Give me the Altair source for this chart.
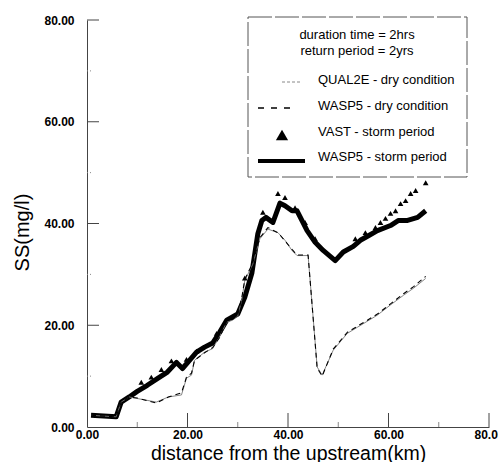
import altair as alt
import pandas as pd

# ---- data ----
storm_x = [0.8, 5.8, 6.8, 8.4, 10.0, 12.0, 14.0, 16.0, 17.8, 19.0, 20.4, 21.8, 23.4, 25.0, 26.4, 27.8,
           30.0, 31.4, 32.8, 34.0, 34.8, 35.6, 37.0, 38.4, 39.4, 40.8, 41.8, 43.8, 45.4, 47.0, 49.4,
           51.0, 53.0, 54.4, 56.0, 57.8, 60.4, 62.0, 63.8, 65.8, 67.4]
storm_y = [2.3, 2.0, 4.9, 5.9, 7.0, 8.2, 9.5, 10.8, 12.7, 11.5, 13.1, 14.7, 15.7, 16.5, 18.6, 21.0,
           22.2, 25.5, 30.2, 38.0, 40.6, 41.2, 40.2, 44.0, 43.5, 42.5, 42.5, 38.6, 36.3, 34.7, 32.7,
           34.4, 35.5, 36.7, 37.6, 38.6, 39.6, 40.6, 40.6, 41.2, 42.5]

vast_x = [10.8, 12.8, 14.8, 16.8, 19.8, 21.8, 25.8, 31.4, 35.0, 38.0, 39.4, 41.4, 43.4, 45.4,
          53.4, 55.4, 57.4, 58.4, 59.4, 60.4, 61.4, 62.4, 63.4, 64.4, 65.4, 67.4]
vast_y = [8.8, 9.8, 11.3, 13.0, 13.3, 14.9, 18.4, 29.3, 42.2, 45.9, 45.1, 43.1, 40.2, 37.0,
          37.0, 38.2, 39.2, 40.2, 41.0, 42.0, 42.5, 43.9, 44.5, 45.9, 46.5, 48.0]

dry_x = [0.8, 5.8, 6.8, 8.4, 10.0, 13.8, 16.2, 18.8, 19.8, 20.8, 21.4, 23.4, 25.0, 26.4, 27.8, 29.0,
         30.0, 30.8, 31.4, 33.0, 34.4, 36.0, 38.0, 39.4, 40.8, 41.8, 44.0, 45.8, 46.8, 49.0, 51.8,
         53.8, 57.8, 60.4, 63.0, 65.0, 67.4]
qual_y = [2.3, 2.0, 4.9, 5.9, 5.6, 4.9, 5.9, 6.3, 9.6, 10.2, 13.1, 14.7, 15.4, 17.8, 20.6, 21.0,
          21.8, 25.0, 28.8, 32.0, 37.0, 38.9, 38.2, 36.7, 34.7, 33.7, 33.7, 11.8, 10.2, 15.1, 18.4,
          19.6, 22.0, 24.0, 25.9, 27.3, 29.2]
wdry_y = [2.3, 2.0, 4.9, 5.9, 5.7, 4.7, 5.9, 6.7, 9.8, 10.6, 13.1, 14.6, 15.6, 17.6, 20.8, 21.2,
          22.0, 25.4, 29.0, 32.3, 37.2, 39.2, 38.2, 36.6, 34.9, 33.8, 33.8, 11.6, 10.0, 15.3, 18.6,
          19.8, 22.2, 24.2, 26.2, 27.6, 29.6]

axis_values = [0, 20, 40, 60, 80]
y_major = [20, 40, 60, 80]
y_minor = [10, 30, 50, 70]
x_major = [20, 40, 60, 80]
x_minor = [10, 30, 50, 70]

legend_header = ["duration time = 2hrs", "return period = 2yrs"]
legend_labels = ["QUAL2E - dry condition", "WASP5 - dry condition",
                 "VAST - storm period", "WASP5 - storm period"]

x_title = "distance from the upstream(km)"
y_title = "SS(mg/l)"

# ---- chart ----
W, H = 402, 407
FONT = "Liberation Sans"
xs = alt.Scale(domain=[0, 80], nice=False, zero=False)
ys = alt.Scale(domain=[0, 80], nice=False, zero=False)

storm_df = pd.DataFrame({"x": storm_x, "y": storm_y})
vast_df = pd.DataFrame({"x": vast_x, "y": vast_y})
qual_df = pd.DataFrame({"x": dry_x, "y": qual_y})
wdry_df = pd.DataFrame({"x": dry_x, "y": wdry_y})

x_axis = alt.Axis(values=axis_values, format=".2f", title=x_title, ticks=False, grid=False,
                  domainColor="#444", domainWidth=1, labelFont=FONT, labelFontSize=12,
                  labelFontWeight="bold", labelColor="black", labelPadding=2,
                  labelFlush=False, labelOverlap=False,
                  titleFont=FONT, titleFontSize=19.5, titleFontWeight="normal", titleColor="black",
                  titleX=201, titleY=32, titleAlign="center", titleBaseline="alphabetic")
y_axis = alt.Axis(values=axis_values, format=".2f", title=y_title, ticks=False, grid=False,
                  domainColor="#444", domainWidth=1, labelFont=FONT, labelFontSize=12,
                  labelFontWeight="bold", labelColor="black", labelPadding=13,
                  labelFlush=False, labelOverlap=False,
                  titleFont=FONT, titleFontSize=20, titleFontWeight="normal", titleColor="black",
                  titleAngle=270, titleX=-65, titleY=212, titleAlign="center",
                  titleBaseline="middle")

storm = alt.Chart(storm_df).mark_line(color="black", strokeWidth=5, strokeJoin="round").encode(
    x=alt.X("x:Q", scale=xs, axis=x_axis),
    y=alt.Y("y:Q", scale=ys, axis=y_axis),
)
qual = alt.Chart(qual_df).mark_line(color="#777", strokeWidth=0.9).encode(
    x=alt.X("x:Q", scale=xs), y=alt.Y("y:Q", scale=ys))
wdry = alt.Chart(wdry_df).mark_line(color="black", strokeWidth=1.1, strokeDash=[5, 4]).encode(
    x=alt.X("x:Q", scale=xs), y=alt.Y("y:Q", scale=ys))
vast = alt.Chart(vast_df).mark_point(shape="triangle-up", filled=True, color="black",
                                     size=32, opacity=1).encode(
    x=alt.X("x:Q", scale=xs), y=alt.Y("y:Q", scale=ys))

# inward ticks
ymaj = alt.Chart(pd.DataFrame({"v": y_major})).mark_rule(color="#444", strokeWidth=1).encode(
    y=alt.Y("v:Q", scale=ys), x=alt.value(0), x2=alt.value(12))
ymin = alt.Chart(pd.DataFrame({"v": y_minor})).mark_rule(color="#888", strokeWidth=1,
                                                          strokeDash=[1, 2]).encode(
    y=alt.Y("v:Q", scale=ys), x=alt.value(0), x2=alt.value(6))
xmaj = alt.Chart(pd.DataFrame({"v": x_major})).mark_rule(color="#444", strokeWidth=1).encode(
    x=alt.X("v:Q", scale=xs), y=alt.value(H), y2=alt.value(H - 14))
xmin = alt.Chart(pd.DataFrame({"v": x_minor})).mark_rule(color="#888", strokeWidth=1).encode(
    x=alt.X("v:Q", scale=xs), y=alt.value(H), y2=alt.value(H - 5))

# legend
one = pd.DataFrame({"k": [0]})
box = alt.Chart(one).mark_rect(fill="white", stroke="#555", strokeWidth=1,
                               strokeDash=[24, 3]).encode(
    x=alt.value(161), x2=alt.value(380), y=alt.value(-3), y2=alt.value(157))
layers = [box]
for i, t in enumerate(legend_header):
    layers.append(alt.Chart(one).mark_text(font=FONT, fontSize=13, align="center",
                                           baseline="middle", color="black").encode(
        x=alt.value(270), y=alt.value(15 + 16 * i), text=alt.value(t)))
row_y = [60, 86, 112, 137]
for t, yy in zip(legend_labels, row_y):
    layers.append(alt.Chart(one).mark_text(font=FONT, fontSize=13, align="left",
                                           baseline="middle", color="black").encode(
        x=alt.value(231), y=alt.value(yy), text=alt.value(t)))
layers.append(alt.Chart(one).mark_rule(color="#888", strokeWidth=1, strokeDash=[3, 2]).encode(
    x=alt.value(195), x2=alt.value(213), y=alt.value(62)))
layers.append(alt.Chart(one).mark_rule(color="black", strokeWidth=1.5, strokeDash=[6, 7]).encode(
    x=alt.value(171), x2=alt.value(206), y=alt.value(88)))
layers.append(alt.Chart(one).mark_point(shape="triangle-up", filled=True, color="black",
                                        size=150, opacity=1).encode(
    x=alt.value(195), y=alt.value(115)))
layers.append(alt.Chart(one).mark_rule(color="black", strokeWidth=4).encode(
    x=alt.value(171), x2=alt.value(218), y=alt.value(141)))

chart = alt.layer(storm, qual, wdry, vast, ymaj, ymin, xmaj, xmin, *layers).properties(
    width=W, height=H,
    autosize=alt.AutoSizeParams(type="none"),
    padding={"left": 87, "top": 20, "right": 9, "bottom": 35},
    background="white",
).configure_view(stroke=None)

chart.save("out.html", embed_options={"renderer": "svg", "actions": False})
